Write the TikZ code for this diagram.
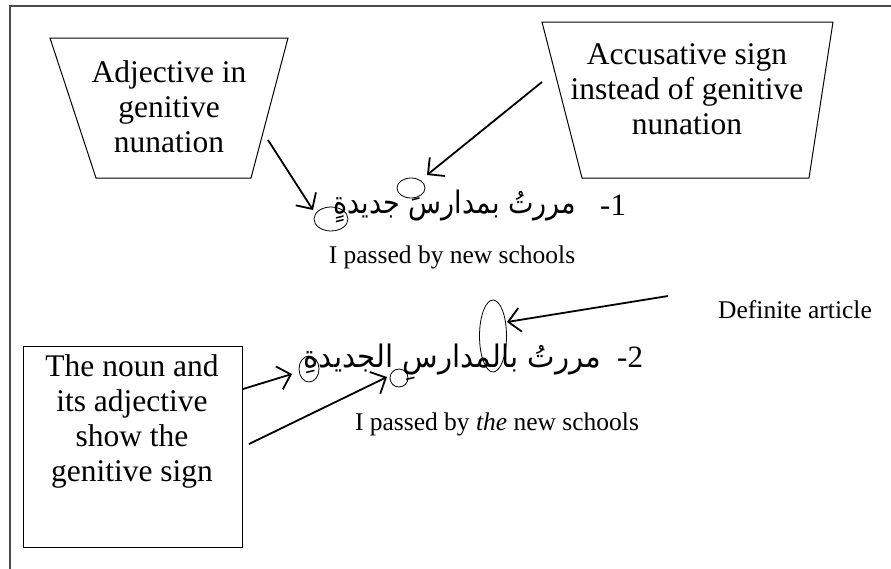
\documentclass[tikz,border=0pt]{standalone}
\usepackage{fontspec}
\setmainfont{Liberation Serif}
\newfontfamily\arabicfont[Script=Arabic]{DejaVu Sans}
\TeXXeTstate=1
\usetikzlibrary{arrows.meta,shapes.geometric}
\begin{document}
\begin{tikzpicture}[x=1pt,y=-1pt,
  big/.style={font=\fontsize{31.5}{35}\selectfont, align=center, inner sep=0pt},
  small/.style={font=\fontsize{25.5}{30}\selectfont, inner sep=0pt},
  num/.style={font=\fontsize{31}{34}\selectfont, inner sep=0pt},
  ar/.style={font=\arabicfont\fontsize{31}{34}\selectfont, inner sep=0pt},
  boxline/.style={draw=black, line width=1pt},
  arr/.style={line width=1.8pt, -{Straight Barb[length=12pt,width=24pt,line width=1.8pt]}},
  ring/.style={draw, ellipse, line width=0.8pt, inner sep=0pt},
]
\useasboundingbox (0,0) rectangle (891,568);
\clip (0,0) rectangle (891,568);
\fill[white] (0,0) rectangle (891,568);
\draw[line width=1.5pt, draw=black!70] (10,6) rectangle (905,590);

% boxes
\draw[boxline] (50,38) -- (288,38) -- (251,178) -- (96,178) -- cycle;
\node[big] (adj) at (169,107) {Adjective in\\genitive\\nunation};
\draw[boxline] (542,22) -- (833,22) -- (809,178) -- (582,178) -- cycle;
\node[big] (acc) at (687,89) {Accusative sign\\instead of genitive\\nunation};
\draw[boxline] (23,346) rectangle (242,547);
\node[big] (noun) at (132,421) {The noun and\\its adjective\\show the\\genitive sign};

% sentences
\node[ar, anchor=base east] (ar1) at (576,213) {\scalebox{0.87}[1]{\beginR مررتُ بمدارسَ جديدةٍ\endR}};
\node[num, anchor=base west] (n1) at (600,215) {-1};
\node[small, anchor=base] (t1) at (452,263) {I passed by new schools};
\node[ar, anchor=base east] (ar2) at (601,367) {\scalebox{0.94}[1]{\beginR مررتُ بالمدارسِ الجديدةِ\endR}};
\node[num, anchor=base west] (n2) at (617,367) {-2};
\node[small, anchor=base] (t2) at (497,430) {I passed by \textit{the} new schools};
\node[small, anchor=base] (t3) at (795,318) {Definite article};

% rings
\node[ring, minimum width=28pt, minimum height=20pt] (e1) at (411,188) {};
\node[ring, minimum width=34pt, minimum height=24pt] (e2) at (331,219) {};
\node[ring, minimum width=27pt, minimum height=72pt] (e3) at (493,336) {};
\node[ring, minimum width=20pt, minimum height=26pt] (e4) at (309,369) {};
\node[ring, minimum width=18pt, minimum height=18pt] (e5) at (399,378) {};

% arrows
\coordinate (a1s) at (268,140); \coordinate (a1e) at (313,210);
\coordinate (a2s) at (542,82);  \coordinate (a2e) at (427,175);
\coordinate (a3s) at (668,296); \coordinate (a3e) at (507,322);
\coordinate (a4s) at (243,389); \coordinate (a4e) at (292,374);
\coordinate (a5s) at (249,444); \coordinate (a5e) at (387,377);
\draw[arr] (a1s) -- (a1e);
\draw[arr] (a2s) -- (a2e);
\draw[arr] (a3s) -- (a3e);
\draw[arr] (a4s) -- (a4e);
\draw[arr] (a5s) -- (a5e);
\end{tikzpicture}
\end{document}
